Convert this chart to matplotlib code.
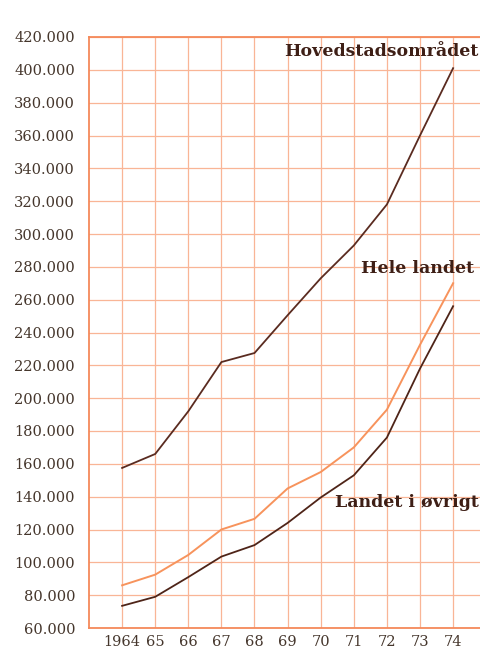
import numpy as np
import matplotlib.pyplot as plt
from matplotlib.ticker import FuncFormatter

# Data
years = [1964, 1965, 1966, 1967, 1968, 1969, 1970, 1971, 1972, 1973, 1974]
year_labels = ['1964', '65', '66', '67', '68', '69', '70', '71', '72', '73', '74']
hovedstad = [157500, 166000, 192000, 222000, 227500, 250500, 273000, 293000, 318000, 360000, 401000]
hele_landet = [86000, 92500, 104500, 120000, 126500, 145000, 155000, 170000, 193000, 232500, 270000]
landet_ovrigt = [73500, 79000, 91000, 103500, 110500, 124000, 139500, 153000, 176000, 218000, 256000]
y_ticks = list(range(60000, 420001, 20000))

grid_col = '#f9b596'
spine_col = '#f5895a'
text_col = '#45362c'
dark = '#5a2b20'
orange = '#f7935c'

fig = plt.figure(figsize=(4.8, 6.53), dpi=100)
ax = fig.add_axes([89 / 480, 25 / 653, 391 / 480, 591 / 653])

ax.plot(years, hovedstad, color=dark, lw=1.3)
ax.plot(years, hele_landet, color=orange, lw=1.4)
ax.plot(years, landet_ovrigt, color='#4e2418', lw=1.3)

ax.set_xlim(1963, 1963 + 391 / 33.1)
ax.set_ylim(60000, 420000)
ax.set_xticks(years)
ax.set_xticklabels(year_labels)
ax.set_yticks(y_ticks)
ax.yaxis.set_major_formatter(FuncFormatter(lambda v, p: f'{int(v):,}'.replace(',', '.')))

ax.grid(True, color=grid_col, lw=0.9)
ax.set_axisbelow(True)
ax.tick_params(length=0, labelsize=10.5, labelcolor=text_col)
ax.tick_params(axis='y', pad=10)
ax.tick_params(axis='x', pad=5)
for lab in ax.get_xticklabels() + ax.get_yticklabels():
    lab.set_family('DejaVu Serif')

# Only left, top and bottom frame
ax.spines['right'].set_visible(False)
for s in ['left', 'top', 'bottom']:
    ax.spines[s].set_color(spine_col)
    ax.spines[s].set_linewidth(1.3)

# Series labels
lab_kw = dict(ha='right', va='center', family='DejaVu Serif', weight='bold',
              fontsize=12.5, color='#3e1f16')
ax.text(1974.78, 411000, 'Hovedstadsområdet', **lab_kw)
ax.text(1974.65, 279000, 'Hele landet', **lab_kw)
ax.text(1974.78, 136500, 'Landet i øvrigt', **lab_kw)

# unit label, cut off at the top edge
fig.text(0.1, 1.008, 'm²', ha='center', va='center', family='DejaVu Serif',
         weight='bold', fontsize=12, color=text_col)

fig.savefig('out.png', dpi=100)
